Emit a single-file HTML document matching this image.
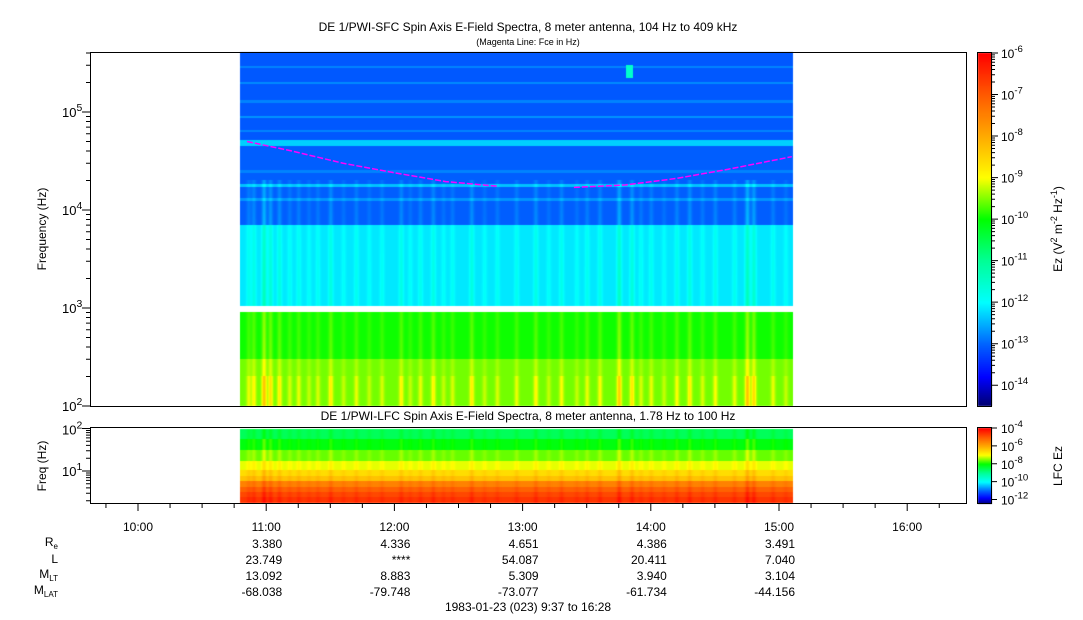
<!DOCTYPE html>
<html><head><meta charset="utf-8"><style>
html,body{margin:0;padding:0;background:#fff;width:1083px;height:620px;overflow:hidden}
#wrap{position:relative;width:1083px;height:620px;font-family:"Liberation Sans",sans-serif}
canvas,svg{position:absolute;left:0;top:0}
</style></head><body>
<div id="wrap">
<canvas id="cv" width="1083" height="620"></canvas>
<svg id="sv" width="1083" height="620" font-family="Liberation Sans, sans-serif"></svg>
</div>
<script>
// ---- data ----
const hfBands = [[100,300,-9.55],[300,900,-9.95],[1040,7000,-12.15],[7000,45000,-13.05],[45000,52000,-12.3],[52000,409000,-13.1]];
const hfStripes = [[13000,-12.7],[18000,-12.4],[25000,-12.8],[65000,-12.8],[90000,-12.7],[130000,-12.8],[200000,-12.75],[290000,-12.8]];
const burstTimes = [10.86,10.9,10.98,11.03,11.1,11.18,11.25,11.33,11.4,11.5,11.6,11.7,11.8,11.9,12.05,12.12,12.2,12.3,12.38,12.45,12.6,12.7,12.8,12.95,13.1,13.2,13.3,13.42,13.5,13.6,13.75,13.85,13.92,14.0,14.1,14.2,14.3,14.4,14.5,14.65,14.75,14.8,14.95,15.05];
const burstStrength = [0.6,0.8,1.6,1.1,0.9,0.5,0.6,0.4,0.5,0.9,0.4,0.6,0.4,0.5,0.8,0.4,0.6,0.8,0.4,0.5,0.9,0.4,0.5,0.6,0.8,0.4,0.7,0.4,0.6,0.7,1.4,1.0,0.5,0.6,0.4,0.7,0.9,0.5,0.7,0.6,1.6,1.2,0.6,0.4];
const lfcEdges = [1.78,2.4,3.2,4.3,5.8,7.8,10.5,17,32,56,100];
const lfcLevels = [-4.6,-4.8,-5.1,-5.5,-6.3,-6.6,-7.1,-7.6,-8.1,-8.6];
const fceTimes = [10.85,11.2,11.6,12.0,12.4,12.8,13.4,13.8,14.2,14.6,15.1];
const fceValues = [50000,40000,30000,24000,19500,17500,17000,18000,21000,26000,35000];
const hours = ['10:00','11:00','12:00','13:00','14:00','15:00','16:00'];
const hourVals = [10,11,12,13,14,15,16];
const ephTimes = [11,12,13,14,15];
const ephRe = ['3.380','4.336','4.651','4.386','3.491'];
const ephL = ['23.749','****','54.087','20.411','7.040'];
const ephMLT = ['13.092','8.883','5.309','3.940','3.104'];
const ephMLAT = ['-68.038','-79.748','-73.077','-61.734','-44.156'];
const tStart = 10.795, tEnd = 15.11;

// ---- scales ----
const X0=90,X1=966;
const xT = t => 138 + (t-10)*128.2;
const yHF = f => 406 - (Math.log10(f)-2)*98;
const fHF = y => Math.pow(10, 2+(406-y)/98);
const yLF = f => 471 - (Math.log10(f)-1)*42.5;
const fLF = y => Math.pow(10, 1+(471-y)/42.5);
const stops=[[-14.5,0,0,110],[-13.8,0,0,255],[-13,0,100,255],[-12,0,255,255],[-11,0,255,150],[-10,0,255,0],[-9,255,255,0],[-8,255,170,0],[-7,255,90,0],[-6,255,0,0]];
function cmap(v,lo,hi){
  if(lo!==undefined){v=-14.5+(v-lo)/(hi-lo)*8.5;}
  if(v<=stops[0][0])return stops[0].slice(1);
  for(let i=1;i<stops.length;i++){if(v<=stops[i][0]){const a=stops[i-1],b=stops[i],k=(v-a[0])/(b[0]-a[0]);return [0,1,2].map(j=>Math.round(a[j+1]+(b[j+1]-a[j+1])*k));}}
  return [255,0,0];
}
const ctx=document.getElementById('cv').getContext('2d');
function burstAt(t){let s=0;for(let i=0;i<burstTimes.length;i++){const d=(t-burstTimes[i])/0.018;s+=burstStrength[i]*Math.exp(-d*d);}return s;}
for(let px=Math.round(xT(tStart)); px<Math.round(xT(tEnd)); px++){
  const t=10+(px-138)/128.2, b=burstAt(t);
  for(let py=52;py<406;py++){
    const f=fHF(py+0.5); let lv=null;
    for(const bd of hfBands){if(f>=bd[0]&&f<bd[1]){lv=bd[2];}}
    if(lv===null)continue;
    for(const s of hfStripes){if(Math.abs(py-yHF(s[0]))<1.3)lv=s[1];}
    if(f<20000){lv+=b*(f<1000?0.5:0.9)*Math.max(0,Math.min(1,1.25-Math.log10(f)/4.6));}
    if(f<200)lv+=b*0.4;
    if(Math.abs(t-13.83)<0.03&&f>220000&&f<300000)lv=-11.5;
    const c=cmap(lv);ctx.fillStyle=`rgb(${c[0]},${c[1]},${c[2]})`;ctx.fillRect(px,py,1,1);
  }
  for(let py=428;py<504;py++){
    const f=fLF(py+0.5);let lv=null;
    for(let i=0;i<lfcLevels.length;i++){if(f>=lfcEdges[i]&&f<lfcEdges[i+1])lv=lfcLevels[i];}
    if(lv===null)continue; lv+=b*0.3;
    const c=cmap(lv,-12.5,-4);ctx.fillStyle=`rgb(${c[0]},${c[1]},${c[2]})`;ctx.fillRect(px,py,1,1);
  }
}
for(let py=53;py<406;py++){const v=-6-(py-53)/(406-53)*8.5;const c=cmap(v);ctx.fillStyle=`rgb(${c})`;ctx.fillRect(978,py,14,1);}
for(let py=428;py<504;py++){const v=-4-(py-428)/(504-428)*8.5;const c=cmap(v,-12.5,-4);ctx.fillStyle=`rgb(${c})`;ctx.fillRect(978,py,14,1);}

// ---- SVG ----
const sv=document.getElementById('sv');const NS='http://www.w3.org/2000/svg';
function el(tag,attrs,parent){const e=document.createElementNS(NS,tag);for(const k in attrs)e.setAttribute(k,attrs[k]);(parent||sv).appendChild(e);return e;}
function txt(x,y,s,size,anchor,name){const e=el('text',{x:x,y:y,'font-size':size,'text-anchor':anchor||'middle',fill:'#000'});e.textContent=s;return e;}
function pow(x,y,exp,size,name,anchor){const e=el('text',{x:x,y:y,'font-size':size,'text-anchor':anchor||'start',fill:'#000'});const a=el('tspan',{},e);a.textContent='10';const b=el('tspan',{dy:-6,'font-size':size*0.8},e);b.textContent=exp;return e;}
// Fce line (gap where no data ~12.8-13.4)
let d='';let prevGap=true;
fceTimes.forEach((t,i)=>{
  if(i>0&&fceTimes[i-1]<=12.8&&t>=13.4)prevGap=true;
  d+=(prevGap?'M':'L')+xT(t)+','+yHF(fceValues[i]);prevGap=false;
});
const fl=el('path',{d:d,fill:'none',stroke:'#ff00ff','stroke-width':1.5,'stroke-dasharray':'6,2'});

const f1=el('rect',{x:90.5,y:52.5,width:876,height:354,fill:'none',stroke:'#000'});
const f2=el('rect',{x:90.5,y:427.5,width:876,height:76,fill:'none',stroke:'#000'});
const c1=el('rect',{x:977.5,y:52.5,width:14,height:354,fill:'none',stroke:'#000'});
const c2=el('rect',{x:977.5,y:427.5,width:14,height:76,fill:'none',stroke:'#000'});
txt(528,31,'DE 1/PWI-SFC  Spin Axis E-Field Spectra, 8 meter antenna, 104 Hz to 409 kHz',12,'middle','hf-title');
txt(528,45,'(Magenta Line: Fce in Hz)',9,'middle','hf-subtitle');
txt(528,420,'DE 1/PWI-LFC  Spin Axis E-Field Spectra, 8 meter antenna, 1.78 Hz to 100 Hz',12,'middle','lfc-title');
let tk='';
for(let e=2;e<=5;e++){for(let m=1;m<10;m++){const f=m*Math.pow(10,e);if(f>409000)break;const y=yHF(f);tk+=`M90,${y}h${m==1?-8:-4}`;}}
for(let e=2;e<=5;e++)pow(62,yHF(Math.pow(10,e))+5,e,13,'hf-y-tick-label');
const ax1=el('path',{d:tk,stroke:'#000',fill:'none'});
const yt=txt(0,0,'Frequency (Hz)',12,'middle','hf-y-axis-title');yt.setAttribute('transform','translate(46,229) rotate(-90)');
tk='';
for(let e=0;e<=2;e++){for(let m=1;m<10;m++){const f=m*Math.pow(10,e);if(f<1.78||f>100)continue;const y=yLF(f);tk+=`M90,${y}h${m==1?-8:-4}`;}}
pow(62,yLF(10)+5,1,13,'lfc-y-tick-label');pow(62,yLF(100)+6,2,13,'lfc-y-tick-label');
const ax2=el('path',{d:tk,stroke:'#000',fill:'none'});
const yt2=txt(0,0,'Freq (Hz)',12,'middle','lfc-y-axis-title');yt2.setAttribute('transform','translate(46,466) rotate(-90)');
tk='';
for(let q=0;q<30;q++){const t=9.5+q*0.25;const x=xT(t);if(x<X0||x>X1)continue;tk+=`M${x},504v${q%4==2?7:4}`;}
const ax3=el('path',{d:tk,stroke:'#000',fill:'none'});
hours.forEach((h,i)=>txt(xT(hourVals[i]),531,h,12,'middle','x-tick-label'));
const rows=[[ephRe,548],[ephL,564],[ephMLT,580],[ephMLAT,596]];
rows.forEach(r=>r[0].forEach((v,i)=>txt(xT(ephTimes[i])+16,r[1],v,12,'end','ephemeris-value')));
const lab=(main,sub,y,name)=>{const e=el('text',{x:58,y:y,'font-size':12,'text-anchor':'end'});const a=el('tspan',{},e);a.textContent=main;if(sub){const b=el('tspan',{dy:3,'font-size':8},e);b.textContent=sub;}};
lab('R','e',546,'re-label');lab('L','',563,'l-label');lab('M','LT',578,'mlt-label');lab('M','LAT',594,'mlat-label');
txt(528,611,'1983-01-23 (023) 9:37 to 16:28',12,'middle','time-range-label');
tk='';
for(let e=-14;e<=-6;e++){const y=406-(e+14.5)/8.5*353;tk+=`M992,${y}h6`;for(let m=2;m<10;m++){const yy=y-Math.log10(m)/8.5*353;if(yy>53)tk+=`M992,${yy}h3`;}pow(1001,y+5,String(e),12,'hf-colorbar-label');}
for(let e=-12;e<=-4;e+=2){const y=504-(e+12.5)/8.5*76;tk+=`M992,${y}h5`;pow(1001,y+5,String(e),12,'lfc-colorbar-label');}
const ax4=el('path',{d:tk,stroke:'#000',fill:'none'});
const ct=el('text',{'font-size':12,'text-anchor':'middle',transform:'translate(1062,229) rotate(-90)'});
[['Ez (V',0],['2',-5],[' m',5],['-2',-5],[' Hz',5],['-1',-5],[')',5]].forEach(p=>{const s=el('tspan',{dy:p[1],'font-size':p[1]<0?9:12},ct);s.textContent=p[0];});
const ct2=txt(0,0,'LFC Ez',12,'middle','lfc-colorbar-title');ct2.setAttribute('transform','translate(1062,466) rotate(-90)');
</script>
</body></html>
